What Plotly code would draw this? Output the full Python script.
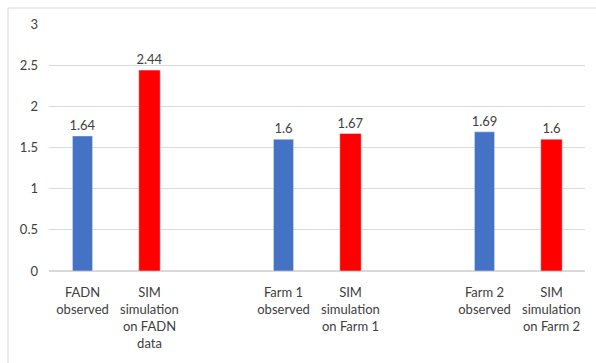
import plotly.graph_objects as go

categories = ["FADN<br>observed", "SIM<br>simulation<br>on FADN<br>data", " ",
              "Farm 1<br>observed", "SIM<br>simulation<br>on Farm 1", "  ",
              "Farm 2<br>observed", "SIM<br>simulation<br>on Farm 2"]
observed = [1.64, None, None, 1.6, None, None, 1.69, None]
simulated = [None, 2.44, None, None, 1.67, None, None, 1.6]
y_ticks = [0, 0.5, 1, 1.5, 2, 2.5, 3]
y_tick_labels = ["0", "0.5", "1", "1.5", "2", "2.5", "3"]

font_family = "Lato, 'Open Sans', sans-serif"

fig = go.Figure()
fig.add_trace(go.Bar(x=categories, y=observed, marker_color="#4472C4", width=0.3,
                     texttemplate="%{y}", textposition="outside", constraintext="none",
                     textfont=dict(size=13, color="#404040", family=font_family),
                     cliponaxis=False, showlegend=False))
fig.add_trace(go.Bar(x=categories, y=simulated, marker_color="#FF0000", width=0.32,
                     texttemplate="%{y}", textposition="outside", constraintext="none",
                     textfont=dict(size=13, color="#404040", family=font_family),
                     cliponaxis=False, showlegend=False))

fig.update_layout(
    width=596, height=363,
    margin=dict(l=49, r=11, t=24, b=92),
    paper_bgcolor="white", plot_bgcolor="white",
    barmode="overlay",
    uniformtext=dict(mode=False),
    font=dict(family=font_family, size=13, color="#404040"),
    xaxis=dict(type="category", categoryorder="array", categoryarray=categories,
               range=[-0.5, 7.5], showgrid=False, showline=False, ticks="",
               ticklabelstandoff=12,
               tickfont=dict(size=13, color="#404040"), tickangle=0, fixedrange=True),
    yaxis=dict(range=[0, 3], tickvals=y_ticks, ticktext=y_tick_labels,
               showgrid=True, gridcolor="#D9D9D9", gridwidth=1,
               zeroline=True, zerolinecolor="#D9D9D9", zerolinewidth=1.5,
               showline=False, ticks="", ticklen=0, ticklabelstandoff=10,
               tickfont=dict(size=13, color="#404040")),
    shapes=[dict(type="rect", xref="paper", yref="paper",
                 x0=(8 - 49) / 536, x1=1.2, y0=-1, y1=1 + 16 / 247,
                 line=dict(color="#D9D9D9", width=1), layer="below")],
)

fig.write_html("out.html")
